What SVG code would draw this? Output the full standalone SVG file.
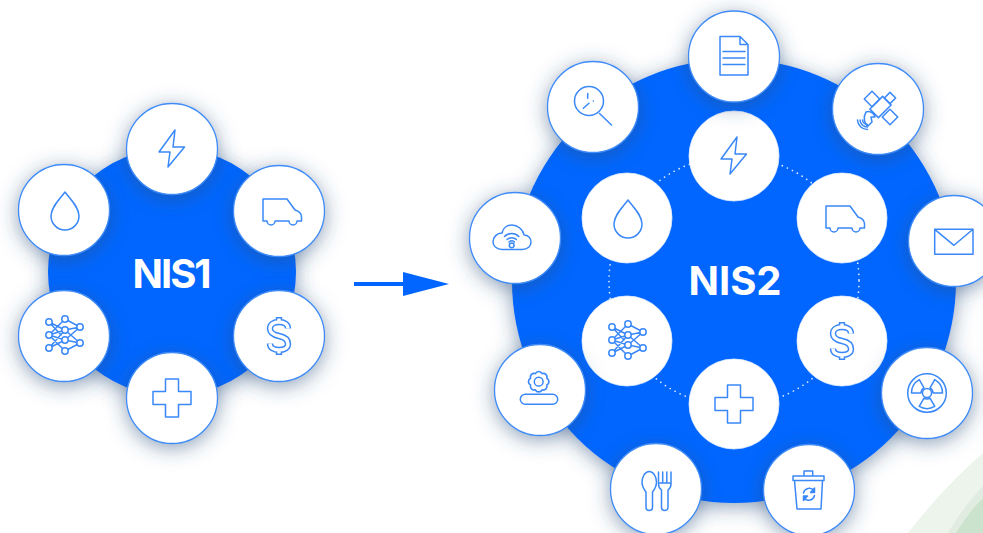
<svg xmlns="http://www.w3.org/2000/svg" width="983" height="533" viewBox="0 0 983 533">
<style>
.disk{fill:#0066ff}
.out{fill:#fff;stroke:#3f8bf7;stroke-width:1.3}
.inn{fill:#fff;stroke:#e3eeff;stroke-width:.8}
.ic{fill:none;stroke:#3a88f8;stroke-width:1.5;stroke-linejoin:round;stroke-linecap:round}
.lbl{font-family:Inter,Roboto,"Liberation Sans",sans-serif;font-weight:700;font-size:40px;fill:#fff;text-anchor:middle}
.ring{fill:none;stroke:#fff;stroke-width:1.7;stroke-linecap:round;stroke-dasharray:0 5.6;opacity:.9}
</style>
<defs>
<filter id="sh" x="-50%" y="-50%" width="200%" height="200%">
<feDropShadow dx="0" dy="4" stdDeviation="10" flood-color="#33527f" flood-opacity=".55"/>
</filter>
<g id="bolt"><path class="ic" d="M3,-19 L-13,3 L-2,3 L-4,18 L12.5,-2 L1,-2 Z"/></g>
<g id="drop"><path class="ic" d="M1,-18 C-4,-11 -13,-3 -13,6 A14,14 0 0 0 15,6 C15,-3 6,-11 1,-18Z"/></g>
<g id="truck"><path class="ic" d="M-16,-12 H8 L16,-1 Q22.5,1 22.5,6 V10 H18 A4,4 0 0 1 10,10 H-4 A4,4 0 0 1 -12,10 H-16 Z"/></g>
<g id="dollar">
<path fill="none" stroke="#3a88f8" stroke-width="6.4" d="M9,-7.5 C9,-12 5,-14 0,-14 C-5.5,-14 -9,-11.5 -9,-7.5 C-9,-3 -5,-1 0,0 C5,1 9,3 9,8 C9,12 5,14 0,14 C-5,14 -9,12 -9,7.5 M0,-19V-14 M0,14V19"/>
<path fill="none" stroke="#fff" stroke-width="3.4" d="M9,-7.5 C9,-12 5,-14 0,-14 C-5.5,-14 -9,-11.5 -9,-7.5 C-9,-3 -5,-1 0,0 C5,1 9,3 9,8 C9,12 5,14 0,14 C-5,14 -9,12 -9,7.5 M0,-17.5V-14 M0,14V17.5"/>
</g>
<g id="plus"><path class="ic" d="M-6.5,-19 H6.5 V-6.5 H19 V6.5 H6.5 V19 H-6.5 V6.5 H-19 V-6.5 H-6.5 Z"/></g>
<g id="net" class="ic">
<path d="M-15,-14 L1,-6 L16,-9 M1,-17 L16,-9 M-15,-14 L-3,-1 M-15,-1 L1,-17 M-15,-1 L1,-6 M-15,-1 L1,4 M-15,-1 L1,15 M-15,12 L1,4 L16,7 M-15,12 L1,-6 M1,15 L16,7 M1,-6 L16,7 M1,4 L16,-9"/>
<g fill="#fff"><circle cx="-15" cy="-14" r="3.2"/><circle cx="-15" cy="-1" r="3.2"/><circle cx="-15" cy="12" r="3.2"/><circle cx="1" cy="-17" r="3.2"/><circle cx="1" cy="-6" r="3.2"/><circle cx="1" cy="4" r="3.2"/><circle cx="1" cy="15" r="3.2"/><circle cx="16" cy="-9" r="3.2"/><circle cx="16" cy="7" r="3.2"/></g>
</g>
<g id="doc" class="ic"><path d="M-14,-19.5 H6 L14,-11.5 V19 H-14 Z M6,-19.5 V-11.5 H14 M-11,-4.5 H11 M-11,2 H11 M-11,8.5 H11"/></g>
<g id="mag" class="ic"><circle cx="-4" cy="-6" r="14.5"/><path d="M6.5,6.5 L18.5,18 M-5.3,-13.5 V-8.7 M0.3,-6 h.1 M-9.7,1.3 L-4,-3.7"/></g>
<g id="sat" class="ic">
<rect x="-9" y="-6" width="18" height="12" transform="translate(2.5 -2) rotate(-45)"/>
<rect x="-5.5" y="-5.5" width="11" height="11" transform="translate(-6 -10) rotate(45)"/>
<rect x="-5.5" y="-5.5" width="11" height="11" transform="translate(12 8) rotate(45)"/>
<rect x="-4" y="-4" width="8" height="8" transform="translate(12 -11) rotate(45)"/>
<path d="M-12,3 C-9,2 -4,3 -3,8 L-7,8 L-6,13 L-10,17 C-14,15 -15,8 -12,3Z"/>
<path d="M-15.5,11 A5,5 0 0 0 -10.5,15.5 M-18,11 A7.5,7.5 0 0 0 -10.5,18 M-20.5,11 A10,10 0 0 0 -10.5,20.5"/>
</g>
<g id="mail" class="ic"><path d="M-19.3,-11.7 H19 V13.3 H-19.3 Z M-19.3,-11.7 L0,4.3 L19,-11.7"/></g>
<g id="rad" class="ic"><circle r="19.3"/><circle r="4.5"/>
<path d="M3,5.2 L7.75,13.42 A15.5,15.5 0 0 1 -7.75,13.42 L-3,5.2 A6,6 0 0 0 3,5.2Z"/>
<path transform="rotate(120)" d="M3,5.2 L7.75,13.42 A15.5,15.5 0 0 1 -7.75,13.42 L-3,5.2 A6,6 0 0 0 3,5.2Z"/>
<path transform="rotate(240)" d="M3,5.2 L7.75,13.42 A15.5,15.5 0 0 1 -7.75,13.42 L-3,5.2 A6,6 0 0 0 3,5.2Z"/>
</g>
<g id="trash" class="ic">
<path d="M-16,-14 H15 V-9.5 H-16 Z M-5,-14 V-19 H3.7 V-14 M-14.5,-9.5 L-12,19 H12 L13.5,-9.5"/>
<path d="M-5.5,3 A6,6 0 0 1 5,0.5 M5.5,5.5 A6,6 0 0 1 -5,8"/>
<path fill="#3a88f8" d="M5.5,-2 V2.5 H1.5 Z M-5.5,10.5 V6 H-1.5 Z"/>
</g>
<g id="cut" class="ic">
<path d="M-10,3 V18.5 a3.2,3 0 0 0 6.5,0 V3 C-1.5,0.5 0.5,-3 0.5,-7 C0.5,-12 -2.5,-17.5 -6.7,-17.5 C-11,-17.5 -14,-12 -14,-7 C-14,-3 -12,0.5 -10,3Z"/>
<path d="M2.5,-17 V-5 C2.5,-2 4,0 5.5,1 V18.5 a3.2,3 0 0 0 6.5,0 V1 C13.5,0 15,-2 15,-5 V-17 M6.7,-17 V-6 M10.8,-17 V-6 M2.5,-6 H15"/>
</g>
<g id="gear" class="ic">
<path transform="translate(-1.3 -8.3) scale(1.1)" d="M7.39,3.06 A3.4,3.4 0 0 1 3.06,7.39 A3.4,3.4 0 0 1 -3.06,7.39 A3.4,3.4 0 0 1 -7.39,3.06 A3.4,3.4 0 0 1 -7.39,-3.06 A3.4,3.4 0 0 1 -3.06,-7.39 A3.4,3.4 0 0 1 3.06,-7.39 A3.4,3.4 0 0 1 7.39,-3.06 A3.4,3.4 0 0 1 7.39,3.06Z"/>
<circle cx="-1.3" cy="-8.3" r="4.4"/>
<rect x="-19.7" y="4.3" width="37.4" height="10" rx="5"/>
</g>
<g id="cloud" class="ic">
<path d="M-13,11.5 H7 C13,11.5 16,8 16,4 C16,0 13,-3 9,-3 C8,-9 2,-13 -3,-13 C-8,-13 -12,-10 -13,-5 C-18,-5 -22,-1 -22,4 C-22,8 -18,11.5 -13,11.5 Z"/>
<circle cx="-3.3" cy="7.3" r="2.4"/>
<path d="M-10.5,-1.5 A10,10 0 0 1 3.9,-1.5 M-8,1.5 A7,7 0 0 1 1.4,1.5 M-6,4 A4,4 0 0 1 -0.6,4"/>
</g>
</defs>

<rect width="983" height="533" fill="#fff"/>
<g id="background">
<path d="M908,533 C930,505 955,477 983,453 V533 Z" fill="#ecf4ec"/>
<path d="M948,533 C958,516 970,500 983,486 V533 Z" fill="#dfecdf"/>
<path d="M956,533 C964,520 973,508 983,498 V533 Z" fill="#cbe2cd"/>
</g>

<g id="cluster-disks">
<circle id="disk-nis1" class="disk" cx="172" cy="272" r="124" filter="url(#sh)"/>
<circle id="disk-nis2" class="disk" cx="734" cy="281" r="222" filter="url(#sh)"/>
</g>

<g id="connectors">
<circle class="ring" cx="734" cy="281" r="125"/>
<path d="M354,284 H405" stroke="#0066ff" stroke-width="4" fill="none"/>
<path d="M403,272 L449,284 L403,296 Z" fill="#0066ff"/>
</g>

<g id="nis1-bolt" filter="url(#sh)"><circle class="out" cx="172" cy="149" r="45.5"/><use href="#bolt" x="172" y="149"/></g>
<g id="nis1-truck" filter="url(#sh)"><circle class="out" cx="279" cy="211" r="45.5"/><use href="#truck" x="279" y="211"/></g>
<g id="nis1-dollar" filter="url(#sh)"><circle class="out" cx="279" cy="336" r="45.5"/><use href="#dollar" x="279" y="336"/></g>
<g id="nis1-plus" filter="url(#sh)"><circle class="out" cx="172" cy="398" r="45.5"/><use href="#plus" x="172" y="398"/></g>
<g id="nis1-net" filter="url(#sh)"><circle class="out" cx="64" cy="336" r="45.5"/><use href="#net" x="64" y="336"/></g>
<g id="nis1-drop" filter="url(#sh)"><circle class="out" cx="64" cy="210" r="45.5"/><use href="#drop" x="64" y="210"/></g>
<text id="label-nis1" class="lbl" x="171" y="288" letter-spacing="-2">NIS1</text>

<g id="nis2-bolt"><circle class="inn" cx="734" cy="156" r="45"/><use href="#bolt" x="734" y="156"/></g>
<g id="nis2-truck"><circle class="inn" cx="842" cy="218" r="45"/><use href="#truck" x="842" y="218"/></g>
<g id="nis2-dollar"><circle class="inn" cx="842" cy="341" r="45"/><use href="#dollar" x="842" y="341"/></g>
<g id="nis2-plus"><circle class="inn" cx="734" cy="404" r="45"/><use href="#plus" x="734" y="404"/></g>
<g id="nis2-net"><circle class="inn" cx="627" cy="341" r="45"/><use href="#net" x="627" y="341"/></g>
<g id="nis2-drop"><circle class="inn" cx="627" cy="218" r="45"/><use href="#drop" x="627" y="218"/></g>

<g id="nis2-doc" filter="url(#sh)"><circle class="out" cx="734" cy="56.5" r="45.5"/><use href="#doc" x="734" y="56"/></g>
<g id="nis2-sat" filter="url(#sh)"><circle class="out" cx="878" cy="109" r="45.5"/><use href="#sat" x="878" y="109"/></g>
<g id="nis2-mail" filter="url(#sh)"><circle class="out" cx="954" cy="241" r="45.5"/><use href="#mail" x="954" y="241"/></g>
<g id="nis2-rad" filter="url(#sh)"><circle class="out" cx="927" cy="393" r="45.5"/><use href="#rad" x="927" y="393"/></g>
<g id="nis2-trash" filter="url(#sh)"><circle class="out" cx="809" cy="490" r="45.5"/><use href="#trash" x="809" y="490"/></g>
<g id="nis2-cut" filter="url(#sh)"><circle class="out" cx="656" cy="489" r="45.5"/><use href="#cut" x="656" y="489"/></g>
<g id="nis2-gear" filter="url(#sh)"><circle class="out" cx="540" cy="390" r="45.5"/><use href="#gear" x="540" y="390"/></g>
<g id="nis2-cloud" filter="url(#sh)"><circle class="out" cx="515" cy="238" r="45.5"/><use href="#cloud" x="515" y="238"/></g>
<g id="nis2-mag" filter="url(#sh)"><circle class="out" cx="593" cy="107" r="45.5"/><use href="#mag" x="593" y="107"/></g>
<text id="label-nis2" class="lbl" x="735" y="295">NIS2</text>
</svg>
